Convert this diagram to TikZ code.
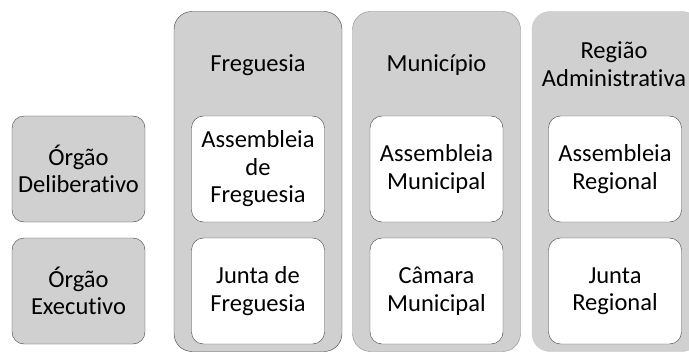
\documentclass[tikz,border=0pt]{standalone}
\usepackage{fontspec}
\setmainfont[Ligatures=NoCommon]{Carlito}
\usepackage{tikz}
\usetikzlibrary{positioning}
\definecolor{boxgray}{HTML}{D0D0D0}

\begin{document}
\begin{tikzpicture}[x=1pt, y=-1pt,
    every node/.style={font=\fontsize{24.5}{27.5}\selectfont, align=center, inner sep=0pt},
    column/.style={fill=boxgray, rounded corners=18pt, minimum width=168pt, minimum height=340pt},
    organ/.style={draw=black!75, fill=boxgray, rounded corners=12pt, minimum width=133pt, minimum height=106pt},
    body/.style={draw=black!75, fill=white, rounded corners=12pt, minimum width=133pt, minimum height=106pt}]
                    \useasboundingbox (0,0) rectangle (689,353);
                    % columns
                    \node [column, draw=black!75] (colfreg) at (258, 181.5) {};
                    \node [column, draw=black!45] (colmun) at (436.5, 181.5) {};
                    \node [column, draw=black!22] (colreg) at (616, 181.5) {};
                    \node at (258, 65) (hfreg) {Freguesia};
                    \node at (436.5, 65) (hmun) {Município};
                    \node at (614, 64) (hreg) {Região\\Administrativa};
                    % row headings
                    \node [organ] (delib) at (78.5, 169) {Órgão\\Deliberativo};
                    \node [organ] (exec) at (78.5, 291) {Órgão\\Executivo};
                    % bodies
                    \node [body] (afreg) at (258, 169) {Assembleia\\de\\Freguesia};
                    \node [body] (jfreg) at (258, 291) {Junta de\\Freguesia};
                    \node [body] (amun) at (436.5, 169) {Assembleia\\Municipal};
                    \node [body] (cmun) at (436.5, 291) {Câmara\\Municipal};
                    \node [body] (areg) at (615, 169) {Assembleia\\Regional};
                    \node [body] (jreg) at (615, 291) {Junta\\Regional};
                \end{tikzpicture}
\end{document}
